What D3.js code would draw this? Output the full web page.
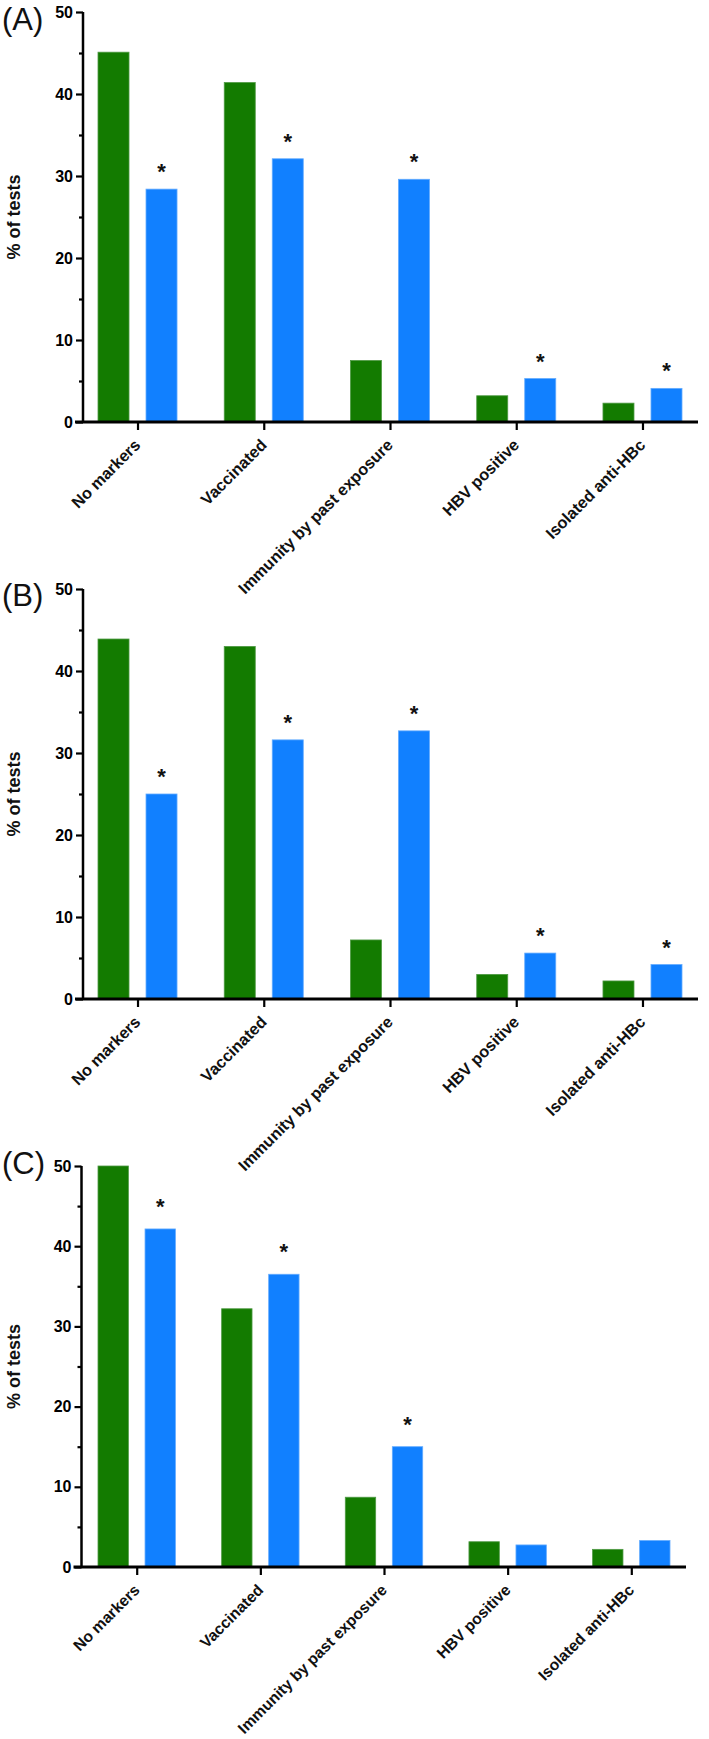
<!DOCTYPE html>
<html>
<head>
<meta charset="utf-8">
<script src="https://cdn.jsdelivr.net/npm/d3@7"></script>
<style>
  html, body { margin: 0; padding: 0; background: #fff; }
  svg { display: block; }
</style>
</head>
<body>
<script>
// ---------------- data ----------------
const categories = ["No markers", "Vaccinated", "Immunity by past exposure", "HBV positive", "Isolated anti-HBc"];
const seriesKeys = ["green", "blue"];
const panelLabels = ["(A)", "(B)", "(C)"];

const greenA = [45.1, 41.4, 7.5, 3.2, 2.3];
const blueA  = [28.4, 32.1, 29.6, 5.3, 4.1];
const sigA   = [true, true, true, true, true];

const greenB = [43.9, 43.0, 7.2, 3.0, 2.2];
const blueB  = [25.0, 31.6, 32.7, 5.6, 4.2];
const sigB   = [true, true, true, true, true];

const greenC = [50.0, 32.2, 8.7, 3.15, 2.2];
const blueC  = [42.15, 36.5, 15.0, 2.75, 3.3];
const sigC   = [true, true, true, false, false];

const yMajorTicks = [0, 10, 20, 30, 40, 50];
const yMinorTicks = [5, 15, 25, 35, 45];
const yTitle = "% of tests";
const sigMark = "*";

// ---------------- styles / layout ----------------
const W = 709, H = 1739;
const colors = { green: "#137b00", blue: "#1180ff" };
const strokes = { green: "#4f9a44", blue: "#63abff" };

const panels = [
  { label: panelLabels[0], green: greenA, blue: blueA, sig: sigA,
    top: 12, bottom: 422, axisX: 83, xEnd: 698, bandStart: 98, bandEnd: 682,
    labelY: 30, starGap: 23, xFont: 16.3, xLabDy: 24 },
  { label: panelLabels[1], green: greenB, blue: blueB, sig: sigB,
    top: 589, bottom: 999, axisX: 83, xEnd: 698, bandStart: 98, bandEnd: 682,
    labelY: 606, starGap: 23, xFont: 16.3, xLabDy: 24 },
  { label: panelLabels[2], green: greenC, blue: blueC, sig: sigC,
    top: 1166, bottom: 1567, axisX: 81.5, xEnd: 686, bandStart: 98, bandEnd: 670,
    labelY: 1174, starGap: 28, xFont: 15.7, xLabDy: 24 }
];

const svg = d3.select("body").append("svg")
  .attr("width", W).attr("height", H)
  .attr("viewBox", `0 0 ${W} ${H}`);

const boldFont = "'Liberation Sans', Arial, Helvetica, sans-serif";
const narrowFont = "'Liberation Sans Narrow', 'Arial Narrow', 'Liberation Sans', sans-serif";

panels.forEach(p => {
  const g = svg.append("g");

  const y = d3.scaleLinear().domain([0, 50]).range([p.bottom, p.top]);
  const x0 = d3.scaleBand().domain(categories).range([p.bandStart, p.bandEnd])
    .paddingInner(0.374).paddingOuter(0);
  const x1 = d3.scaleBand().domain(seriesKeys).range([0, x0.bandwidth()])
    .paddingInner(0.354).paddingOuter(0);

  const rows = categories.map((c, i) => ({ cat: c, green: p.green[i], blue: p.blue[i], sig: p.sig[i] }));

  // bars
  const grp = g.selectAll("g.cat").data(rows).join("g")
    .attr("class", "cat")
    .attr("transform", d => `translate(${x0(d.cat)},0)`);

  grp.selectAll("rect").data(d => seriesKeys.map(k => ({ key: k, value: d[k] })))
    .join("rect")
    .attr("x", d => x1(d.key))
    .attr("width", x1.bandwidth())
    .attr("y", d => y(d.value))
    .attr("height", d => y(0) - y(d.value))
    .attr("fill", d => colors[d.key])
    .attr("stroke", d => strokes[d.key])
    .attr("stroke-width", 0.8);

  // significance stars
  grp.filter(d => d.sig).append("text")
    .attr("x", x1("blue") + x1.bandwidth() / 2)
    .attr("y", d => y(d.blue) - p.starGap + 13)
    .attr("text-anchor", "middle")
    .attr("font-family", boldFont)
    .attr("font-weight", "bold")
    .attr("font-size", 22)
    .attr("fill", "#111")
    .text(sigMark);

  // y axis
  const yAxis = d3.axisLeft(y).tickValues(yMajorTicks).tickSize(7).tickPadding(3)
    .tickFormat(d3.format("d"));
  const ya = g.append("g").attr("transform", `translate(${p.axisX},0)`).call(yAxis);
  ya.select(".domain").attr("d", `M0,${p.top}V${p.bottom}`).attr("stroke", "#000").attr("stroke-width", 2.5);
  ya.selectAll(".tick line").attr("stroke", "#000").attr("stroke-width", 2.2);
  ya.selectAll(".tick text")
    .attr("font-family", narrowFont)
    .attr("font-weight", "bold")
    .attr("font-size", 16)
    .attr("fill", "#000");

  const yMinorAxis = d3.axisLeft(y).tickValues(yMinorTicks).tickSize(4).tickFormat("");
  const ym = g.append("g").attr("transform", `translate(${p.axisX},0)`).call(yMinorAxis);
  ym.select(".domain").remove();
  ym.selectAll(".tick line").attr("stroke", "#000").attr("stroke-width", 2.2);

  // x axis
  const xCenter = d3.scalePoint().domain(categories)
    .range([x0(categories[0]) + x0.bandwidth() / 2, x0(categories[categories.length - 1]) + x0.bandwidth() / 2]);
  const xAxis = d3.axisBottom(xCenter).tickSize(8).tickFormat("");
  const xa = g.append("g").attr("transform", `translate(0,${p.bottom})`).call(xAxis);
  xa.select(".domain").attr("d", `M${p.axisX - 8},0H${p.xEnd}`).attr("stroke", "#000").attr("stroke-width", 2.8);
  xa.selectAll(".tick line").attr("stroke", "#000").attr("stroke-width", 2.2);

  // rotated category labels
  g.selectAll("text.xlab").data(categories).join("text")
    .attr("class", "xlab")
    .attr("transform", d => `translate(${xCenter(d) + 4},${p.bottom + p.xLabDy}) rotate(-45)`)
    .attr("text-anchor", "end")
    .attr("font-family", boldFont)
    .attr("font-weight", "bold")
    .attr("font-size", p.xFont)
    .attr("fill", "#111")
    .text(d => d);

  // y title
  g.append("text")
    .attr("transform", `translate(20,${(p.top + p.bottom) / 2}) rotate(-90)`)
    .attr("text-anchor", "middle")
    .attr("font-family", boldFont)
    .attr("font-weight", "bold")
    .attr("font-size", 18)
    .attr("fill", "#111")
    .text(yTitle);

  // panel label
  g.append("text")
    .attr("x", 2)
    .attr("y", p.labelY)
    .attr("font-family", "'Liberation Sans', Arial, Helvetica, sans-serif")
    .attr("font-size", 31)
    .attr("fill", "#111")
    .text(p.label);
});
</script>
</body>
</html>
